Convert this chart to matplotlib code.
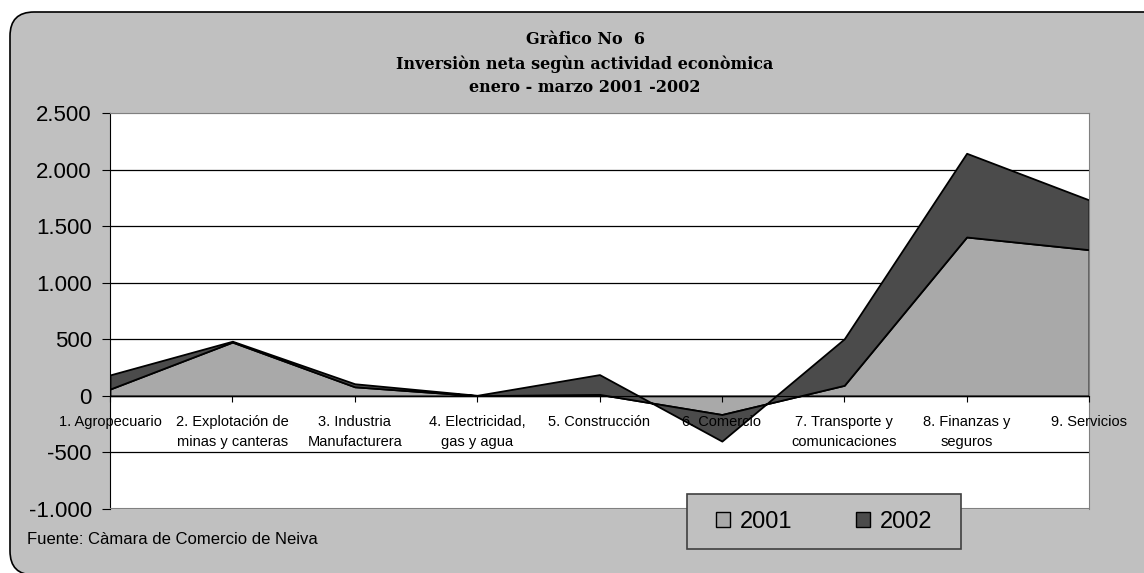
import matplotlib
matplotlib.use('Agg')
import matplotlib.pyplot as plt
from matplotlib.patches import FancyBboxPatch, Rectangle, Patch
from matplotlib.ticker import FuncFormatter

categorias = ['1. Agropecuario', '2. Explotación de\nminas y canteras', '3. Industria\nManufacturera',
              '4. Electricidad,\ngas y agua', '5. Construcción', '6. Comercio',
              '7. Transporte y\ncomunicaciones', '8. Finanzas y\nseguros', '9. Servicios']
v2001 = [60, 475, 80, 2, 13, -165, 93, 1404, 1292]
v2002 = [125, 8, 27, 3, 175, -235, 411, 740, 440]
yticks = [-1000, -500, 0, 500, 1000, 1500, 2000, 2500]

W, H = 1144, 573
fig = plt.figure(figsize=(W / 100, H / 100), dpi=100)
fig.patch.set_facecolor('white')

# rounded grey chart area (right and bottom edges run off the picture)
fig.patches.append(FancyBboxPatch((10 / W, -2 / H), 1.2, 1 - 10 / H,
                                  boxstyle='round,pad=0,rounding_size=0.021',
                                  transform=fig.transFigure, facecolor='#C0C0C0',
                                  edgecolor='black', linewidth=1.2, zorder=-1,
                                  mutation_aspect=W / H))

ax = fig.add_axes([110 / W, 1 - 509 / H, (1089 - 110) / W, (509 - 113) / H])
ax.set_facecolor('white')
x = list(range(len(categorias)))
ax.stackplot(x, v2001, v2002, colors=['#A9A9A9', '#4B4B4B'], edgecolor='black', linewidth=1.3, zorder=1.2)

ax.set_xlim(0, len(categorias) - 1)
ax.set_ylim(-1000, 2500)
ax.set_yticks(yticks)
ax.yaxis.set_major_formatter(FuncFormatter(lambda v, p: f'{int(v):,}'.replace(',', '.')))
for t in yticks[1:-1]:
    if t != 0:
        ax.axhline(t, color='black', linewidth=0.9, zorder=0.8)

ax.spines['bottom'].set_position(('data', 0))
ax.spines['bottom'].set_zorder(3)
ax.spines['top'].set_color('#808080')
ax.spines['right'].set_color('#808080')
ax.spines['left'].set_color('black')
ax.axhline(-1000, color='#808080', linewidth=1.5, zorder=3)
ax.axhline(2500, color='#808080', linewidth=1.5, zorder=3)

ax.set_xticks(x)
ax.set_xticklabels(categorias, family='Liberation Sans', fontsize=10.5, linespacing=1.55)
ax.tick_params(axis='x', direction='out', length=4.5, pad=9, color='black')
ax.tick_params(axis='y', direction='out', length=6, pad=7, labelsize=16)
for lab in ax.get_yticklabels():
    lab.set_family('Liberation Sans')
ax.xaxis.set_zorder(2.6)

titulo = ['Gràfico No  6', 'Inversiòn neta segùn actividad econòmica', 'enero - marzo 2001 -2002']
for i, t in enumerate(titulo):
    fig.text(585 / W, 1 - (40 + 24 * i) / H, t, ha='center', va='center',
             family='DejaVu Serif', weight='bold', fontsize=11.5)

fig.text(27 / W, 1 - 540 / H, 'Fuente: Càmara de Comercio de Neiva', ha='left', va='center',
         family='Liberation Sans', fontsize=12)

# legend
fig.patches.append(Rectangle((687 / W, 1 - 549 / H), (961 - 687) / W, 55 / H, transform=fig.transFigure,
                             facecolor='#C0C0C0', edgecolor='#404040', linewidth=1.2, zorder=3))
handles = [Patch(facecolor='#A9A9A9', edgecolor='black'), Patch(facecolor='#4B4B4B', edgecolor='black')]
leg = fig.legend(handles, ['2001', '2002'], loc='center', ncol=2, frameon=False,
                 bbox_to_anchor=((687 + 961) / 2 / W, 1 - 521.5 / H),
                 prop={'family': 'Liberation Sans', 'size': 17},
                 handlelength=0.6, handleheight=0.6, handletextpad=0.4, columnspacing=2.7)
leg.set_zorder(5)

fig.savefig('out.png', dpi=100)
